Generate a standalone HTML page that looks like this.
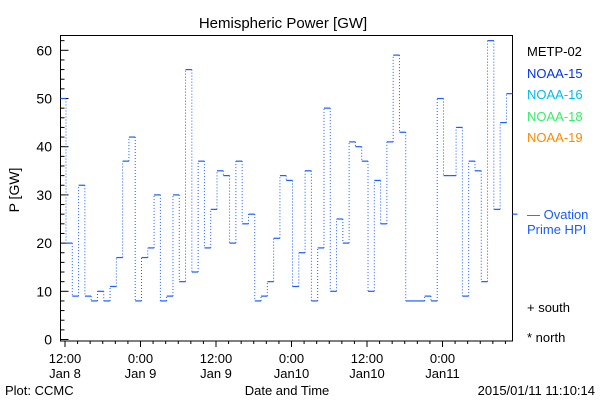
<!DOCTYPE html>
<html><head><meta charset="utf-8"><style>
html,body{margin:0;padding:0;background:#fff;}
svg{display:block;font-family:"Liberation Sans","DejaVu Sans",sans-serif;}
</style></head><body>
<svg id="chart" width="600" height="400" viewBox="0 0 600 400">
<text x="283" y="28" font-size="15" text-anchor="middle">Hemispheric Power [GW]</text>
<text transform="translate(19,190) rotate(-90)" font-size="14" text-anchor="middle">P [GW]</text>
<rect x="60.5" y="35.5" width="452" height="305.5" fill="none" stroke="#000" stroke-width="1"/>
<g id="ticks"></g>
<g id="series"></g>
<g font-size="13">
<text x="527" y="56" fill="#000">METP-02</text>
<text x="527" y="78" fill="#0033ee">NOAA-15</text>
<text x="527" y="99" fill="#00bbee">NOAA-16</text>
<text x="527" y="121" fill="#33ee66">NOAA-18</text>
<text x="527" y="142" fill="#ff8800">NOAA-19</text>
<text x="527" y="219" fill="#1a5cff">— Ovation</text>
<text x="527" y="234" fill="#1a5cff">Prime HPI</text>
<text x="527" y="312" fill="#000">+ south</text>
<text x="527" y="342" fill="#000">* north</text>
</g>
<text x="5" y="395" font-size="13">Plot: CCMC</text>
<text x="287" y="395" font-size="13" text-anchor="middle">Date and Time</text>
<text x="595" y="395" font-size="13" text-anchor="end">2015/01/11 11:10:14</text>
</svg>
<script>
const values = [50,20,9,32,9,8,10,8,11,17,37,42,8,17,19,30,8,9,30,12,56,14,37,19,27,35,34,20,37,24,26,8,9,12,21,
34,33,11,18,35,8,19,48,10,25,20,41,40,37,10,33,24,41,59,43,8,8,8,9,8,50,34,34,44,9,37,35,12,62,27,45,51];
const startHour = 11.16;
const hpiValue = 26;
const yTicks = [0,10,20,30,40,50,60];
const xTickHours = [12,24,36,48,60,72];
const xTickTop = ["12:00","0:00","12:00","0:00","12:00","0:00"];
const xTickBottom = ["Jan 8","Jan 9","Jan 9","Jan10","Jan10","Jan11"];

const NS="http://www.w3.org/2000/svg";
const X0=60.5, X1=512.5, YB=341;
const xs = h => 65 + (h-12)*75.5/12;
const ys = v => 339.5 - v*4.82;
function mk(tag, attrs, parent){const e=document.createElementNS(NS,tag);for(const k in attrs)e.setAttribute(k,attrs[k]);parent.appendChild(e);return e;}
const tk=document.getElementById('ticks'), sr=document.getElementById('series');

for(let v=0; v<=62; v+=2){
  const major = v%10===0;
  const l=mk('line',{x1:X0,x2:X0+(major?8:4),y1:ys(v),y2:ys(v),stroke:'#000'},tk);
  
  
}
yTicks.forEach(v=>{
  const t=mk('text',{x:52,y:ys(v)+5,'font-size':14,'text-anchor':'end'},tk);
  t.textContent=v;
  
  
});
for(let h=12; xs(h)<=X1; h+=2){
  const major = h%12===0;
  const l=mk('line',{x1:xs(h),x2:xs(h),y1:YB,y2:YB+(major?6:3),stroke:'#000'},tk);
  
  
}
xTickHours.forEach((h,i)=>{
  const a=mk('text',{x:xs(h),y:363,'font-size':13,'text-anchor':'middle'},tk);
  a.textContent=xTickTop[i];
  
  
  const b=mk('text',{x:xs(h),y:378,'font-size':13,'text-anchor':'middle'},tk);
  b.textContent=xTickBottom[i];
  
  
});
const C='#1a5cff';
values.forEach((v,i)=>{
  const xa=Math.max(X0,xs(startHour+i)), xb=Math.min(X1,xs(startHour+i+1));
  const s=mk('line',{x1:xa,x2:xb,y1:ys(v),y2:ys(v),stroke:C,'stroke-width':1.2},sr);
  
  
  if(i>0){
    const d=mk('line',{x1:xa,x2:xa,y1:ys(values[i-1]),y2:ys(v),stroke:C,'stroke-width':1,'stroke-dasharray':'1 2'},sr);
    
    
  }
});
const hp=mk('line',{x1:X1,x2:X1+5,y1:ys(hpiValue),y2:ys(hpiValue),stroke:C,'stroke-width':1.2},sr);


</script>
</body></html>
